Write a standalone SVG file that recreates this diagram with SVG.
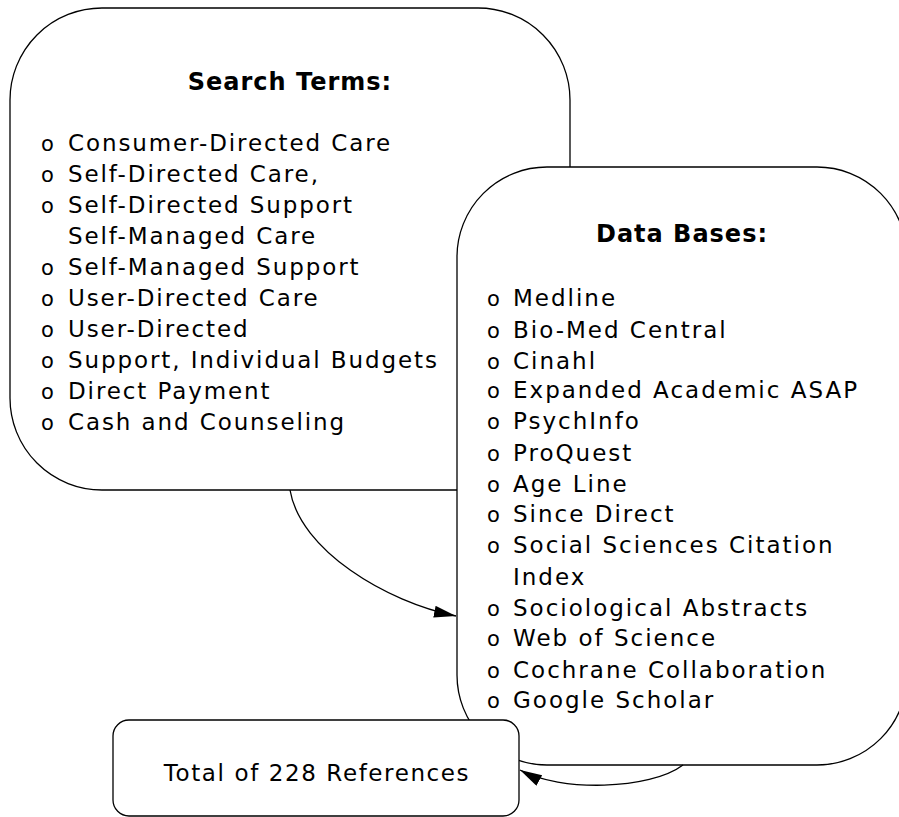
<svg xmlns="http://www.w3.org/2000/svg" width="899" height="817" viewBox="0 0 899 817">
<style>
.box{fill:#fff;stroke:#000;stroke-width:1.3}
.title{font-family:"DejaVu Sans",sans-serif;font-weight:bold;font-size:24px;letter-spacing:1px;fill:#000;text-anchor:middle}
.item{font-family:"DejaVu Sans",sans-serif;font-size:23px;letter-spacing:1.9px;fill:#000}
.bul{font-family:"DejaVu Sans",sans-serif;font-size:21px;fill:#000}
.conn{fill:none;stroke:#000;stroke-width:1.3}
</style>
<defs>
<marker id="arr" markerUnits="userSpaceOnUse" markerWidth="24" markerHeight="14" refX="22" refY="6" orient="auto">
<path d="M0,0 L22,6 L0,12 z" fill="#000"/>
</marker>
</defs>
<rect width="899" height="817" fill="#fff"/>
<g id="search-terms">
<rect class="box" x="10" y="8" width="560" height="482" rx="92" ry="92"/>
<text class="title" x="290" y="90">Search Terms:</text>
<g class="bul">
<text x="41" y="151">o</text><text x="41" y="182">o</text><text x="41" y="213">o</text>
<text x="41" y="275">o</text><text x="41" y="306">o</text><text x="41" y="337">o</text>
<text x="41" y="368">o</text><text x="41" y="399">o</text><text x="41" y="430">o</text>
</g>
<g class="item">
<text x="68" y="151">Consumer-Directed Care</text>
<text x="68" y="182">Self-Directed Care,</text>
<text x="68" y="213">Self-Directed Support</text>
<text x="68" y="244">Self-Managed Care</text>
<text x="68" y="275">Self-Managed Support</text>
<text x="68" y="306">User-Directed Care</text>
<text x="68" y="337">User-Directed</text>
<text x="68" y="368">Support, Individual Budgets</text>
<text x="68" y="399">Direct Payment</text>
<text x="68" y="430">Cash and Counseling</text>
</g>
</g>
<g id="data-bases">
<rect class="box" x="457" y="167" width="450" height="598" rx="90" ry="90"/>
<text class="title" x="682" y="242">Data Bases:</text>
<g class="bul">
<text x="487" y="306">o</text><text x="487" y="338">o</text><text x="487" y="369">o</text>
<text x="487" y="398">o</text><text x="487" y="429">o</text><text x="487" y="461">o</text>
<text x="487" y="492">o</text><text x="487" y="522">o</text><text x="487" y="553">o</text>
<text x="487" y="616">o</text><text x="487" y="646">o</text><text x="487" y="678">o</text>
<text x="487" y="708">o</text>
</g>
<g class="item" style="letter-spacing:2px">
<text x="513" y="306">Medline</text>
<text x="513" y="338">Bio-Med Central</text>
<text x="513" y="369">Cinahl</text>
<text x="513" y="398">Expanded Academic ASAP</text>
<text x="513" y="429">PsychInfo</text>
<text x="513" y="461">ProQuest</text>
<text x="513" y="492">Age Line</text>
<text x="513" y="522">Since Direct</text>
<text x="513" y="553">Social Sciences Citation</text>
<text x="513" y="585">Index</text>
<text x="513" y="616">Sociological Abstracts</text>
<text x="513" y="646">Web of Science</text>
<text x="513" y="678">Cochrane Collaboration</text>
<text x="513" y="708">Google Scholar</text>
</g>
</g>
<g id="total">
<rect class="box" x="113" y="720" width="406" height="96" rx="16" ry="16"/>
<text class="item" x="317" y="781" text-anchor="middle" style="letter-spacing:1.6px">Total of 228 References</text>
</g>
<g id="connectors">
<path class="conn" d="M290,490 C300,550 386,602 456,616" marker-end="url(#arr)"/>
<path class="conn" d="M683,765 C650,790 560,792 520,770" marker-end="url(#arr)"/>
</g>
</svg>
